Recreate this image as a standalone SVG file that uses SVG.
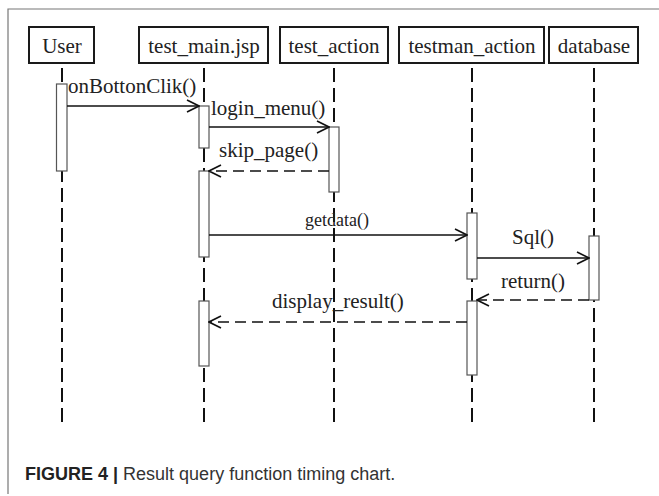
<svg xmlns="http://www.w3.org/2000/svg" width="659" height="496" viewBox="0 0 659 496">
<defs>
<style>
.frame{stroke:#777;stroke-width:1.2;fill:none}
.head{fill:#fff;stroke:#1a1a1a;stroke-width:2}
.lbl{font-family:"Liberation Serif","Times New Roman",serif;font-size:21px;fill:#222}
.life{stroke:#111;stroke-width:2;stroke-dasharray:14 6;fill:none}
.act{fill:#fff;stroke:#555;stroke-width:1.2}
.msg{stroke:#111;stroke-width:1.6;fill:none}
.ret{stroke:#111;stroke-width:1.6;fill:none;stroke-dasharray:11 6}
.cap{font-family:"Liberation Sans",Arial,sans-serif;font-size:18px;fill:#333}
</style>
<marker id="open" viewBox="0 0 14 14" refX="13" refY="7" markerWidth="14" markerHeight="14" markerUnits="userSpaceOnUse" orient="auto">
<path d="M1,1 L13,7 L1,13" fill="none" stroke="#111" stroke-width="1.6"/>
</marker>
</defs>
<rect width="659" height="496" fill="#fff"/>
<path class="frame" d="M8,494 L8,9 L659,9"/>

<g id="lifelines">
<line class="life" x1="62" y1="68" x2="62" y2="427"/>
<line class="life" x1="204" y1="68" x2="204" y2="427"/>
<line class="life" x1="334" y1="68" x2="334" y2="427"/>
<line class="life" x1="472" y1="68" x2="472" y2="427"/>
<line class="life" x1="594" y1="68" x2="594" y2="427"/>
</g>

<g id="user">
<rect class="head" x="29" y="27" width="65" height="36"/>
<text class="lbl" x="62" y="53" text-anchor="middle">User</text>
<rect class="act" x="56.5" y="84" width="10.5" height="87"/>
</g>
<g id="test_main">
<rect class="head" x="139" y="27" width="129" height="36"/>
<text class="lbl" x="204" y="53" text-anchor="middle">test_main.jsp</text>
<rect class="act" x="199" y="106" width="10" height="42"/>
<rect class="act" x="199" y="171" width="10" height="86"/>
<rect class="act" x="199" y="301" width="10" height="65"/>
</g>
<g id="test_action">
<rect class="head" x="280" y="27" width="108" height="36"/>
<text class="lbl" x="334" y="53" text-anchor="middle">test_action</text>
<rect class="act" x="329" y="127" width="10" height="65"/>
</g>
<g id="testman_action">
<rect class="head" x="399" y="27" width="145" height="36"/>
<text class="lbl" x="472" y="53" text-anchor="middle">testman_action</text>
<rect class="act" x="467" y="213" width="10" height="66"/>
<rect class="act" x="467" y="301" width="10" height="74"/>
</g>
<g id="database">
<rect class="head" x="549" y="27" width="89" height="36"/>
<text class="lbl" x="594" y="53" text-anchor="middle">database</text>
<rect class="act" x="589" y="236" width="10" height="64"/>
</g>

<g id="connectors">
<line class="msg" x1="67" y1="106" x2="199" y2="106" marker-end="url(#open)"/>
<text class="lbl" x="68" y="93">onBottonClik()</text>
<line class="msg" x1="209" y1="127" x2="329" y2="127" marker-end="url(#open)"/>
<text class="lbl" x="211" y="115">login_menu()</text>
<line class="ret" x1="329" y1="171" x2="209" y2="171" marker-end="url(#open)"/>
<text class="lbl" x="219" y="157">skip_page()</text>
<line class="msg" x1="209" y1="235" x2="467" y2="235" marker-end="url(#open)"/>
<text class="lbl" x="337" y="226" text-anchor="middle" style="font-size:18px">getdata()</text>
<line class="msg" x1="477" y1="258" x2="589" y2="258" marker-end="url(#open)"/>
<text class="lbl" x="533" y="244" text-anchor="middle">Sql()</text>
<line class="ret" x1="589" y1="300" x2="477" y2="300" marker-end="url(#open)"/>
<text class="lbl" x="533" y="288" text-anchor="middle">return()</text>
<line class="ret" x1="467" y1="322" x2="209" y2="322" marker-end="url(#open)"/>
<text class="lbl" x="272" y="308">display_result()</text>
</g>

<text class="cap" x="25" y="480"><tspan font-weight="bold" fill="#222">FIGURE 4</tspan> <tspan font-weight="bold" fill="#222">|</tspan> Result query function timing chart.</text>
</svg>
